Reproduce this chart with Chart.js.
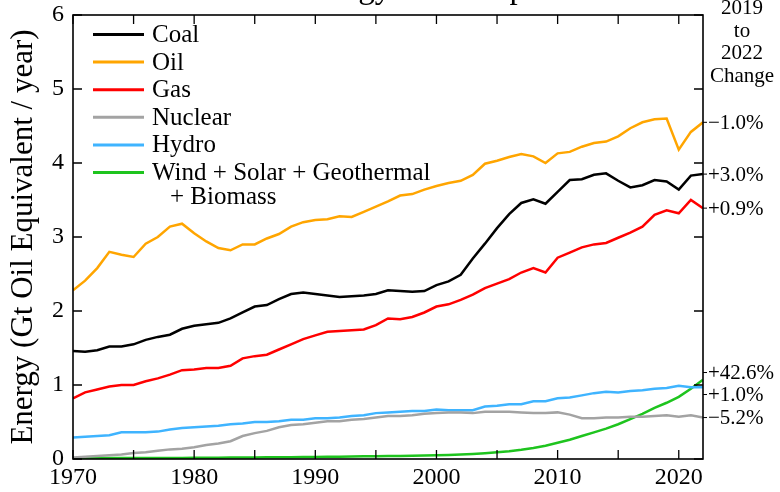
<!DOCTYPE html>
<html>
<head>
<meta charset="utf-8">
<script src="https://cdn.jsdelivr.net/npm/chart.js@4.4.1/dist/chart.umd.min.js"></script>
<style>
  body { margin: 0; background: #fff; }
</style>
</head>
<body>
<canvas id="chart_energy" width="780" height="492"></canvas>
<script>
const years = [
  1970, 1971, 1972, 1973, 1974, 1975, 1976, 1977, 1978, 1979,
  1980, 1981, 1982, 1983, 1984, 1985, 1986, 1987, 1988, 1989,
  1990, 1991, 1992, 1993, 1994, 1995, 1996, 1997, 1998, 1999,
  2000, 2001, 2002, 2003, 2004, 2005, 2006, 2007, 2008, 2009,
  2010, 2011, 2012, 2013, 2014, 2015, 2016, 2017, 2018, 2019,
  2020, 2021, 2022
];

// Gt oil equivalent per year
const coal = [
  1.46, 1.45, 1.47, 1.52, 1.52, 1.55, 1.61, 1.65, 1.68, 1.76,
  1.80, 1.82, 1.84, 1.90, 1.98, 2.06, 2.08, 2.16, 2.23, 2.25,
  2.23, 2.21, 2.19, 2.20, 2.21, 2.23, 2.28, 2.27, 2.26, 2.27,
  2.35, 2.40, 2.49, 2.71, 2.91, 3.12, 3.31, 3.46, 3.51, 3.45,
  3.61, 3.77, 3.78, 3.84, 3.86, 3.76, 3.67, 3.70, 3.77, 3.75,
  3.64, 3.83, 3.85
];
const oil = [
  2.28, 2.41, 2.58, 2.80, 2.76, 2.73, 2.91, 3.00, 3.14, 3.18,
  3.05, 2.94, 2.85, 2.82, 2.90, 2.90, 2.98, 3.04, 3.14, 3.20,
  3.23, 3.24, 3.28, 3.27, 3.34, 3.41, 3.48, 3.56, 3.58, 3.64,
  3.69, 3.73, 3.76, 3.84, 3.99, 4.03, 4.08, 4.12, 4.09, 4.00,
  4.13, 4.15, 4.22, 4.27, 4.29, 4.36, 4.47, 4.55, 4.59, 4.60,
  4.18, 4.42, 4.55
];
const gas = [
  0.82, 0.90, 0.94, 0.98, 1.00, 1.00, 1.05, 1.09, 1.14, 1.20,
  1.21, 1.23, 1.23, 1.26, 1.36, 1.39, 1.41, 1.48, 1.55, 1.62,
  1.67, 1.72, 1.73, 1.74, 1.75, 1.81, 1.90, 1.89, 1.92, 1.98,
  2.06, 2.09, 2.15, 2.22, 2.31, 2.37, 2.43, 2.52, 2.58, 2.52,
  2.72, 2.79, 2.86, 2.90, 2.92, 2.99, 3.06, 3.14, 3.30, 3.36,
  3.32, 3.50, 3.39
];
const nuclear = [
  0.02, 0.03, 0.04, 0.05, 0.06, 0.08, 0.09, 0.11, 0.13, 0.14,
  0.16, 0.19, 0.21, 0.24, 0.31, 0.35, 0.38, 0.43, 0.46, 0.47,
  0.49, 0.51, 0.51, 0.53, 0.54, 0.56, 0.58, 0.58, 0.59, 0.61,
  0.62, 0.63, 0.63, 0.62, 0.64, 0.64, 0.64, 0.63, 0.62, 0.62,
  0.63, 0.60, 0.55, 0.55, 0.56, 0.56, 0.57, 0.57, 0.58, 0.59,
  0.57, 0.59, 0.56
];
const hydro = [
  0.29, 0.30, 0.31, 0.32, 0.36, 0.36, 0.36, 0.37, 0.40, 0.42,
  0.43, 0.44, 0.45, 0.47, 0.48, 0.50, 0.50, 0.51, 0.53, 0.53,
  0.55, 0.55, 0.56, 0.58, 0.59, 0.62, 0.63, 0.64, 0.65, 0.65,
  0.67, 0.66, 0.66, 0.66, 0.71, 0.72, 0.74, 0.74, 0.78, 0.78,
  0.82, 0.83, 0.86, 0.89, 0.91, 0.90, 0.92, 0.93, 0.95, 0.96,
  0.99, 0.97, 0.97
];
const renewables = [
  0.010, 0.011, 0.012, 0.012, 0.013, 0.013, 0.014, 0.014, 0.015, 0.015,
  0.016, 0.017, 0.018, 0.019, 0.020, 0.021, 0.022, 0.023, 0.024, 0.026,
  0.028, 0.030, 0.032, 0.034, 0.036, 0.038, 0.040, 0.042, 0.044, 0.047,
  0.050, 0.055, 0.060, 0.068, 0.078, 0.090, 0.105, 0.125, 0.150, 0.180,
  0.220, 0.260, 0.310, 0.360, 0.410, 0.470, 0.540, 0.610, 0.690, 0.760,
  0.840, 0.950, 1.070
];

const seriesNames = ['Coal', 'Oil', 'Gas', 'Nuclear', 'Hydro', ['Wind + Solar + Geothermal', '+ Biomass']];
const seriesColors = ['#000000', '#ffa500', '#ff0000', '#a3a3a3', '#3fb4ff', '#1ec41e'];
const changeLabels = ['+3.0%', '\u22121.0%', '+0.9%', '\u22125.2%', '+1.0%', '+42.6%'];
const changeHeader = ['2019', 'to', '2022', 'Change'];
const chartTitle = 'Global Energy Consumption';
const yTitle = 'Energy (Gt Oil Equivalent / year)';

const serif = '"Liberation Serif", "DejaVu Serif", serif';
const allSeries = [coal, oil, gas, nuclear, hydro, renewables];

function toPoints(arr) {
  return years.map(function (yr, i) { return { x: yr, y: arr[i] }; });
}

function spreadLabels(items, gap) {
  items.sort(function (a, b) { return a.y - b.y; });
  var groups = items.map(function (it) { return { items: [it], y: it.y }; });
  var merged = true;
  while (merged) {
    merged = false;
    for (var i = 0; i < groups.length - 1; i++) {
      var a = groups[i], b = groups[i + 1];
      var aBottom = a.y + (a.items.length - 1) * gap / 2;
      var bTop = b.y - (b.items.length - 1) * gap / 2;
      if (bTop - aBottom < gap) {
        var all = a.items.concat(b.items);
        var mean = all.reduce(function (s, it) { return s + it.y; }, 0) / all.length;
        groups.splice(i, 2, { items: all, y: mean });
        merged = true;
        break;
      }
    }
  }
  groups.forEach(function (g) {
    g.items.forEach(function (it, k) {
      it.ly = g.y + (k - (g.items.length - 1) / 2) * gap;
    });
  });
  return items;
}

const decorations = {
  id: 'decorations',
  afterDraw(chart) {
    var ctx = chart.ctx;
    var area = chart.chartArea;
    var xs = chart.scales.x, ys = chart.scales.y;
    ctx.save();

    // frame
    ctx.strokeStyle = '#000';
    ctx.lineWidth = 1.6;
    ctx.strokeRect(area.left, area.top, area.right - area.left, area.bottom - area.top);

    // inward ticks
    ctx.lineWidth = 1.3;
    ctx.beginPath();
    for (var v = 0; v <= 6; v++) {
      var py = ys.getPixelForValue(v);
      ctx.moveTo(area.left, py); ctx.lineTo(area.left + 9, py);
      ctx.moveTo(area.right, py); ctx.lineTo(area.right - 9, py);
    }
    for (var yr = 1970; yr <= 2020; yr += 5) {
      var px = xs.getPixelForValue(yr);
      ctx.moveTo(px, area.bottom); ctx.lineTo(px, area.bottom - 9);
      ctx.moveTo(px, area.top); ctx.lineTo(px, area.top + 9);
    }
    ctx.stroke();

    // title (cut off at the top edge)
    ctx.fillStyle = '#000';
    ctx.font = '33px ' + serif;
    ctx.textAlign = 'center';
    ctx.textBaseline = 'alphabetic';
    ctx.fillText(chartTitle, (area.left + area.right) / 2, -2);

    // legend
    ctx.font = '25px ' + serif;
    ctx.textAlign = 'left';
    ctx.textBaseline = 'middle';
    ctx.lineWidth = 3;
    seriesNames.forEach(function (name, i) {
      var rowY = area.top + 19.5 + i * 27.6;
      ctx.strokeStyle = seriesColors[i];
      ctx.beginPath();
      ctx.moveTo(area.left + 20, rowY);
      ctx.lineTo(area.left + 71, rowY);
      ctx.stroke();
      var lines = Array.isArray(name) ? name : [name];
      ctx.fillText(lines[0], area.left + 79, rowY + 1);
      if (lines[1]) ctx.fillText(lines[1], area.left + 97, rowY + 25);
    });

    // change header
    ctx.font = '21px ' + serif;
    ctx.textAlign = 'center';
    changeHeader.forEach(function (t, i) {
      ctx.fillText(t, 742, 8.5 + i * 22.5);
    });

    // change labels at the last value of each series
    var items = allSeries.map(function (arr, i) {
      return { y: ys.getPixelForValue(arr[arr.length - 1]), text: changeLabels[i] };
    });
    spreadLabels(items, 22);
    ctx.textAlign = 'left';
    ctx.lineWidth = 1;
    ctx.strokeStyle = '#000';
    items.forEach(function (it) {
      ctx.beginPath();
      ctx.moveTo(area.right, it.ly);
      ctx.lineTo(area.right + 4, it.ly);
      ctx.stroke();
      ctx.fillText(it.text, area.right + 5, it.ly + 1);
    });

    ctx.restore();
  }
};

const datasets = allSeries.map(function (arr, i) {
  return {
    label: Array.isArray(seriesNames[i]) ? seriesNames[i].join(' ') : seriesNames[i],
    data: toPoints(arr),
    borderColor: seriesColors[i],
    borderWidth: 2.5,
    pointRadius: 0,
    tension: 0,
    fill: false
  };
});

var cha = new Chart(document.getElementById('chart_energy'), {
  type: 'line',
  data: { datasets: datasets },
  options: {
    responsive: false,
    animation: false,
    devicePixelRatio: 1,
    layout: { padding: { top: 15, right: 77, left: 0, bottom: 0 } },
    plugins: {
      legend: { display: false },
      tooltip: { enabled: false }
    },
    scales: {
      x: {
        type: 'linear',
        min: 1970,
        max: 2022,
        grid: { display: false, drawTicks: false },
        border: { display: false },
        ticks: {
          stepSize: 10,
          includeBounds: false,
          autoSkip: false,
          maxRotation: 0,
          padding: 4,
          color: '#000',
          font: { family: serif, size: 24 },
          callback: function (v) { return String(v); }
        },
        afterFit: function (s) {
          s.height = 33;
          s.paddingLeft = 0;
          s.paddingRight = 0;
        }
      },
      y: {
        min: 0,
        max: 6,
        grid: { display: false, drawTicks: false },
        border: { display: false },
        ticks: {
          stepSize: 1,
          padding: 9,
          color: '#000',
          font: { family: serif, size: 24 }
        },
        title: {
          display: true,
          text: yTitle,
          color: '#000',
          font: { family: serif, size: 31 },
          padding: { top: 5, bottom: 0 }
        },
        afterFit: function (s) {
          s.width = 73;
          s.paddingTop = 0;
          s.paddingBottom = 0;
        }
      }
    }
  },
  plugins: [decorations]
});
</script>
</body>
</html>
